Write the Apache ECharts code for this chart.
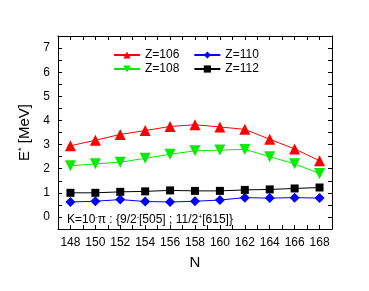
<!DOCTYPE html>
<html><head><meta charset="utf-8">
<script src="https://cdn.jsdelivr.net/npm/echarts@6/dist/echarts.min.js"></script>
<style>html,body{margin:0;padding:0;background:#fff}#c{width:369px;height:291px}</style>
</head><body><div id="c"></div>
<script>
const N = [148,150,152,154,156,158,160,162,164,166,168];
const z106 = [2.95,3.18,3.42,3.58,3.75,3.82,3.73,3.63,3.22,2.82,2.33];
const z108 = [2.12,2.20,2.27,2.43,2.60,2.74,2.77,2.80,2.50,2.20,1.80];
const z110 = [0.62,0.65,0.72,0.64,0.62,0.65,0.70,0.80,0.78,0.80,0.78];
const z112 = [1.00,1.00,1.04,1.06,1.10,1.08,1.08,1.12,1.14,1.18,1.22];
const xTicks = [148,150,152,154,156,158,160,162,164,166,168];
const yTicks = [0,1,2,3,4,5,6,7];

const chart = echarts.init(document.getElementById('c'));
const font = 'Liberation Sans, Arial, sans-serif';
function mk(name, data, color, symbol, size) {
  return {name, type:'line', data: N.map((n,i)=>[n,data[i]]), symbol, symbolSize:size,
    lineStyle:{color, width:1}, itemStyle:{color}, z:3};
}
const line = {show:true, onZero:false, lineStyle:{color:'#000', width:1}};
const tick = {show:true, inside:true, length:4, lineStyle:{color:'#000'}};
chart.setOption({
  animation:false,
  grid:{left:58, right:37, top:36, bottom:62},
  legend:[
    {data:['Z=106','Z=110'], top:44, left:108, itemWidth:26, itemHeight:9, itemGap:14,
     textStyle:{fontFamily:font, fontSize:12, color:'#000'}},
    {data:['Z=108','Z=112'], top:58, left:108, itemWidth:26, itemHeight:9, itemGap:14,
     textStyle:{fontFamily:font, fontSize:12, color:'#000'}}
  ],
  xAxis:[
    {type:'value', min:147, max:169, interval:1, position:'bottom',
      name:'N', nameLocation:'middle', nameGap:26,
      nameTextStyle:{fontFamily:font, fontSize:15, color:'#000'},
      axisLine:line, axisTick:tick, splitLine:{show:false},
      axisLabel:{fontFamily:font, fontSize:12, color:'#000', margin:8,
        formatter:v=> xTicks.includes(v) ? String(v) : ''}},
    {type:'value', min:147, max:169, interval:1, position:'top',
      axisLine:line, axisTick:tick, splitLine:{show:false}, axisLabel:{show:false}}
  ],
  yAxis:[
    {type:'value', min:-0.5, max:7.5, interval:0.5, position:'left',
      name:'{e|E}{s|*}{e| [MeV]}', nameLocation:'middle', nameGap:18,
      nameTextStyle:{rich:{e:{fontFamily:font, fontSize:15, color:'#000'},
        s:{fontFamily:font, fontSize:9, color:'#000', verticalAlign:'top', padding:[0,0,5,0]}}},
      axisLine:line, axisTick:tick, splitLine:{show:false},
      axisLabel:{fontFamily:font, fontSize:12, color:'#000', margin:8,
        formatter:v=> yTicks.includes(v) ? String(v) : ''}},
    {type:'value', min:-0.5, max:7.5, interval:0.5, position:'right',
      axisLine:line, axisTick:tick, splitLine:{show:false}, axisLabel:{show:false}}
  ],
  series:[
    mk('Z=106', z106, '#ff0000', 'triangle', 11),
    mk('Z=108', z108, '#00ee00', 'path://M0,0 L10,0 L5,9 Z', 11),
    mk('Z=110', z110, '#0000ff', 'diamond', 10),
    mk('Z=112', z112, '#000000', 'rect', 8)
  ],
  graphic:[
    {type:'text', x:67, y:220, style:{
      text:'{n|K=10}{s|-}{n|π : {9/2}{s|-}{n|[505] ; 11/2}{s|+}{n|[615]}}',
      verticalAlign:'middle',
      rich:{n:{fontFamily:font, fontSize:12, fill:'#000'},
            s:{fontFamily:font, fontSize:7, fill:'#000', verticalAlign:'top', padding:[0,0,5,0]}}
    }}
  ]
});
</script></body></html>
